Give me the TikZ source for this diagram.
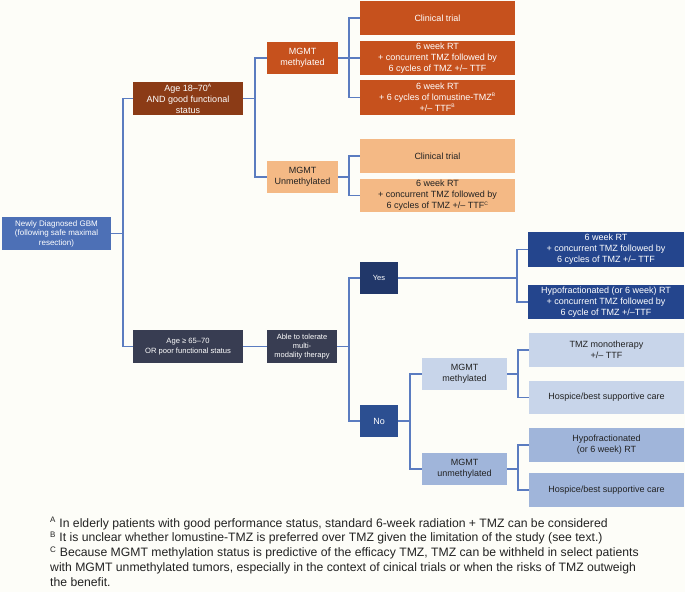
\documentclass[tikz,border=0pt]{standalone}
\usepackage{fontspec}
\setmainfont{Liberation Sans}
\definecolor{bg}{HTML}{FDFDF8}
\definecolor{lnc}{HTML}{5B7CC0}
\definecolor{gbmc}{HTML}{4D70B6}
\definecolor{agec}{HTML}{8B3B16}
\definecolor{orc}{HTML}{C6511D}
\definecolor{lorc}{HTML}{F4B985}
\definecolor{slate}{HTML}{383D52}
\definecolor{yesc}{HTML}{213769}
\definecolor{ybox}{HTML}{24458D}
\definecolor{noc}{HTML}{2C4F91}
\definecolor{lbl}{HTML}{C8D5EA}
\definecolor{mbl}{HTML}{A0B5DA}
\definecolor{dtxt}{HTML}{222222}
\tikzset{
  bx/.style={inner sep=0pt, align=center, font=\fontsize{9}{11}\selectfont},
  sm/.style={font=\fontsize{7.6}{9.5}\selectfont},
  wt/.style={text=white},
  dk/.style={text=dtxt},
  conn/.style={draw=lnc, line width=1.2pt},
}
\begin{document}
\begin{tikzpicture}[x=1pt,y=-1pt]
\fill[bg] (0,0) rectangle (685,592);
\useasboundingbox (0,0) rectangle (685,592);
% nodes
\node[bx,wt,fill=gbmc,minimum width=109pt,minimum height=33pt,font=\fontsize{8}{9.5}\selectfont] (gbm) at (56.5,233.5) {Newly Diagnosed GBM\\(following safe maximal\\resection)};
\node[bx,wt,fill=agec,minimum width=110pt,minimum height=33pt] (age1) at (188,98.5) {Age 18–70\textsuperscript{\fontsize{5}{5}\selectfont A}\\AND good functional\\status};
\node[bx,sm,wt,fill=slate,minimum width=110pt,minimum height=33pt] (age2) at (188,346.5) {Age ≥ 65–70\\OR poor functional status};
\node[bx,wt,fill=orc,minimum width=71pt,minimum height=32pt] (mo) at (302.5,58) {MGMT\\methylated};
\node[bx,dk,fill=lorc,minimum width=71pt,minimum height=32pt] (mu) at (302.5,177) {MGMT\\Unmethylated};
\node[bx,wt,fill=orc,minimum width=155pt,minimum height=34pt] (o1) at (437.5,18) {Clinical trial};
\node[bx,wt,fill=orc,minimum width=155pt,minimum height=34pt] (o2) at (437.5,58) {6 week RT\\+ concurrent TMZ followed by\\6 cycles of TMZ +/– TTF};
\node[bx,wt,fill=orc,minimum width=155pt,minimum height=35pt] (o3) at (437.5,97.5) {6 week RT\\+ 6 cycles of lomustine-TMZ\textsuperscript{\fontsize{5}{5}\selectfont B}\\+/– TTF\textsuperscript{\fontsize{5}{5}\selectfont B}};
\node[bx,dk,fill=lorc,minimum width=155pt,minimum height=34pt] (l1) at (437.5,156) {Clinical trial};
\node[bx,dk,fill=lorc,minimum width=155pt,minimum height=33pt] (l2) at (437.5,195.5) {6 week RT\\+ concurrent TMZ followed by\\6 cycles of TMZ +/– TTF\textsuperscript{\fontsize{5}{5}\selectfont C}};
\node[bx,wt,fill=slate,minimum width=70pt,minimum height=33pt,font=\fontsize{7.5}{9}\selectfont] (able) at (302,346.5) {Able to tolerate\\multi-\\modality therapy};
\node[bx,wt,fill=yesc,minimum width=38pt,minimum height=32pt,font=\fontsize{7.5}{9}\selectfont] (yes) at (379,278) {Yes};
\node[bx,wt,fill=noc,minimum width=38pt,minimum height=32pt] (no) at (379,421) {No};
\node[bx,wt,fill=ybox,minimum width=156pt,minimum height=35pt] (y1) at (606,249.5) {6 week RT\\+ concurrent TMZ followed by\\6 cycles of TMZ +/– TTF};
\node[bx,wt,fill=ybox,minimum width=156pt,minimum height=34pt] (y2) at (606,302) {Hypofractionated (or 6 week) RT\\+ concurrent TMZ followed by\\6 cycle of TMZ +/–TTF};
\node[bx,dk,fill=lbl,minimum width=85pt,minimum height=32pt] (nm) at (464.5,374) {MGMT\\methylated};
\node[bx,dk,fill=mbl,minimum width=85pt,minimum height=32pt] (nu) at (464.5,469) {MGMT\\unmethylated};
\node[bx,dk,fill=lbl,minimum width=155pt,minimum height=34pt] (n1) at (606.5,350) {TMZ monotherapy\\+/– TTF};
\node[bx,dk,fill=lbl,minimum width=155pt,minimum height=33pt] (n2) at (606.5,397.5) {Hospice/best supportive care};
\node[bx,dk,fill=mbl,minimum width=155pt,minimum height=34pt] (n3) at (606.5,445) {Hypofractionated\\(or 6 week) RT};
\node[bx,dk,fill=mbl,minimum width=155pt,minimum height=34pt] (n4) at (606.5,490) {Hospice/best supportive care};
% trunks
\coordinate (t1) at (123,0);
\coordinate (t2) at (255,0);
\coordinate (t3) at (349,0);
\coordinate (t4) at (410,0);
\coordinate (t5) at (517,0);
\coordinate (t6) at (518,0);
\draw[conn] (gbm.east) -- (gbm.east -| t1);
\draw[conn] (age1.west) -- (age1.west -| t1) -- (age2.west -| t1) -- (age2.west);
\draw[conn] (age1.east) -- (age1.east -| t2);
\draw[conn] (mo.west) -- (mo.west -| t2) -- (mu.west -| t2) -- (mu.west);
\draw[conn] (mo.east) -- (mo.east -| t3);
\draw[conn] (o1.west) -- (o1.west -| t3) -- (o3.west -| t3) -- (o3.west);
\draw[conn] (o2.west) -- (o2.west -| t3);
\draw[conn] (mu.east) -- (mu.east -| t3);
\draw[conn] (l1.west) -- (l1.west -| t3) -- (l2.west -| t3) -- (l2.west);
\draw[conn] (age2.east) -- (able.west);
\draw[conn] (able.east) -- (able.east -| t3);
\draw[conn] (yes.west) -- (yes.west -| t3) -- (no.west -| t3) -- (no.west);
\draw[conn] (yes.east) -- (yes.east -| t5);
\draw[conn] (y1.west) -- (y1.west -| t5) -- (y2.west -| t5) -- (y2.west);
\draw[conn] (no.east) -- (no.east -| t4);
\draw[conn] (nm.west) -- (nm.west -| t4) -- (nu.west -| t4) -- (nu.west);
\draw[conn] (nm.east) -- (nm.east -| t6);
\draw[conn] (n1.west) -- (n1.west -| t6) -- (n2.west -| t6) -- (n2.west);
\draw[conn] (nu.east) -- (nu.east -| t6);
\draw[conn] (n3.west) -- (n3.west -| t6) -- (n4.west -| t6) -- (n4.west);
% footnotes
\node[anchor=north west, inner sep=0pt, align=left, text=dtxt, font=\fontsize{12.2}{14.8}\selectfont] (fn) at (50,517) {%
\textsuperscript{\fontsize{8}{8}\selectfont A} In elderly patients with good performance status, standard 6-week radiation + TMZ can be considered\\
\textsuperscript{\fontsize{8}{8}\selectfont B} It is unclear whether lomustine-TMZ is preferred over TMZ given the limitation of the study (see text.)\\
\textsuperscript{\fontsize{8}{8}\selectfont C} Because MGMT methylation status is predictive of the efficacy TMZ, TMZ can be withheld in select patients\\
with MGMT unmethylated tumors, especially in the context of cinical trials or when the risks of TMZ outweigh\\
the benefit.};
\end{tikzpicture}
\end{document}
